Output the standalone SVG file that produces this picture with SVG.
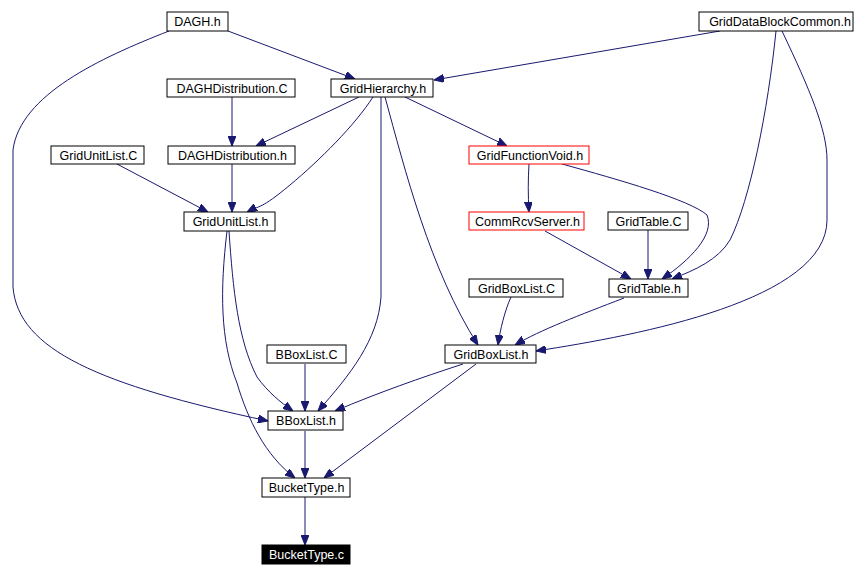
<svg xmlns="http://www.w3.org/2000/svg" width="856" height="576" viewBox="0 0 856 576">
<style>
.n rect{fill:#fff;stroke:#000;stroke-width:1}
.n.red rect{stroke:#ff0000}
.n.blk rect{fill:#000}
.n text{font-family:"Liberation Sans",Arial,sans-serif;font-size:12.5px;fill:#000;text-anchor:middle}
.n.blk text{fill:#fff}
#edges path{fill:none;stroke:#191970;stroke-width:1;marker-end:url(#ah)}
</style>
<defs>
<marker id="ah" viewBox="0 0 10 8" refX="10" refY="4" markerWidth="10" markerHeight="8" markerUnits="userSpaceOnUse" orient="auto">
<path d="M0,0 L10,4 L0,8 z" fill="#191970" stroke="#191970"/>
</marker>
</defs>
<rect width="856" height="576" fill="#fff"/>
<g id="edges">
<path d="M228,31 L355,79"/>
<path d="M169,31 C100,58 20,95 13,150 L13,287 C18,350 100,385 268,421"/>
<path d="M720,31 L434,80"/>
<path d="M776,31 C768,110 750,200 730,240 C718,260 695,270 672,279"/>
<path d="M782,31 C810,90 827,130 827,160 L827,220 C827,300 640,335 536,351"/>
<path d="M232,97 L232,146"/>
<path d="M359,97 L256,146"/>
<path d="M373,97 C355,125 320,160 290,185 S260,205 247,212"/>
<path d="M381,97 L381,297 C378,340 350,375 318,411"/>
<path d="M385,97 C405,170 430,270 478,345"/>
<path d="M405,97 L507,146"/>
<path d="M117,164 L208,212"/>
<path d="M232,164 L232,212"/>
<path d="M229,231 C233,290 238,340 257,377 C268,392 280,402 293,411"/>
<path d="M227,231 C220,290 220,340 237,383 C248,420 265,455 295,478"/>
<path d="M529,164 C528,180 528,195 529,212"/>
<path d="M562,164 C620,180 690,200 707,215 C715,235 690,260 662,279"/>
<path d="M545,231 L631,279"/>
<path d="M648,230 L648,279"/>
<path d="M511,297 C505,310 500,330 498,345"/>
<path d="M624,298 C580,315 540,330 515,345"/>
<path d="M305,364 L305,411"/>
<path d="M463,364 C420,378 380,392 335,411"/>
<path d="M476,364 L324,478"/>
<path d="M305,431 L305,478"/>
<path d="M305,497 L305,545"/>
</g>
<g id="n_DAGH_h" class="n"><rect x="167" y="12" width="61" height="19"/><text x="197.5" y="25.5">DAGH.h</text></g>
<g id="n_GridDataBlockCommon_h" class="n"><rect x="699" y="12" width="154" height="19"/><text x="780" y="25.5">GridDataBlockCommon.h</text></g>
<g id="n_DAGHDistribution_C" class="n"><rect x="167" y="79" width="128" height="18"/><text x="232" y="92.5">DAGHDistribution.C</text></g>
<g id="n_GridHierarchy_h" class="n"><rect x="331" y="79" width="102" height="18"/><text x="383" y="92.5">GridHierarchy.h</text></g>
<g id="n_GridUnitList_C" class="n"><rect x="51" y="146" width="93" height="18"/><text x="98.5" y="159.5">GridUnitList.C</text></g>
<g id="n_DAGHDistribution_h" class="n"><rect x="168" y="146" width="127" height="18"/><text x="232.5" y="159.5">DAGHDistribution.h</text></g>
<g id="n_GridFunctionVoid_h" class="n red"><rect x="469" y="146" width="120" height="18"/><text x="530" y="159.5">GridFunctionVoid.h</text></g>
<g id="n_GridUnitList_h" class="n"><rect x="184" y="212" width="91" height="19"/><text x="230.5" y="225.5">GridUnitList.h</text></g>
<g id="n_CommRcvServer_h" class="n red"><rect x="469" y="212" width="115" height="18"/><text x="527.5" y="225.5">CommRcvServer.h</text></g>
<g id="n_GridTable_C" class="n"><rect x="608" y="212" width="80" height="18"/><text x="648.5" y="225.5">GridTable.C</text></g>
<g id="n_GridBoxList_C" class="n"><rect x="469" y="279" width="94" height="18"/><text x="516.5" y="292.5">GridBoxList.C</text></g>
<g id="n_GridTable_h" class="n"><rect x="609" y="279" width="79" height="18"/><text x="649" y="292.5">GridTable.h</text></g>
<g id="n_BBoxList_C" class="n"><rect x="267" y="345" width="79" height="18"/><text x="306.5" y="358.5">BBoxList.C</text></g>
<g id="n_GridBoxList_h" class="n"><rect x="445" y="345" width="91" height="18"/><text x="491" y="358.5">GridBoxList.h</text></g>
<g id="n_BBoxList_h" class="n"><rect x="268" y="411" width="75" height="19"/><text x="306" y="425">BBoxList.h</text></g>
<g id="n_BucketType_h" class="n"><rect x="262" y="478" width="88" height="19"/><text x="306.5" y="492">BucketType.h</text></g>
<g id="n_BucketType_c" class="n blk"><rect x="262" y="545" width="88" height="19"/><text x="306.5" y="559">BucketType.c</text></g>
</svg>
